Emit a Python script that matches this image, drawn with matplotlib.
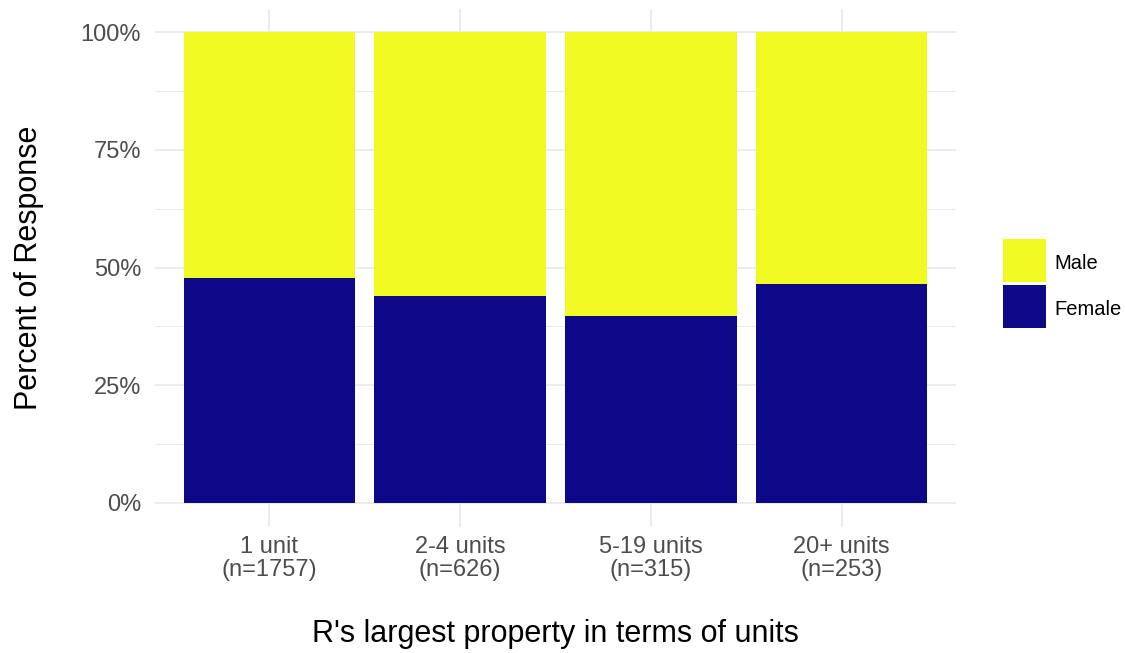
import matplotlib.pyplot as plt
from matplotlib.patches import Rectangle
import numpy as np

plt.rcParams['font.family'] = ['Liberation Sans', 'DejaVu Sans']

# data
categories = ["1 unit\n(n=1757)", "2-4 units\n(n=626)", "5-19 units\n(n=315)", "20+ units\n(n=253)"]
female = [0.478, 0.439, 0.397, 0.465]
male = [1 - f for f in female]
series_names = ["Male", "Female"]
colors = {"Male": "#F0F921", "Female": "#0D0887"}

W, H = 1125, 653
fig = plt.figure(figsize=(W / 100, H / 100), dpi=100)
ax = fig.add_axes([155 / W, 1 - 526.5 / H, (956 - 155) / W, (526.5 - 8.5) / H])

x = np.arange(len(categories))
ax.bar(x, female, width=0.9, color=colors["Female"], zorder=2)
ax.bar(x, male, width=0.9, bottom=female, color=colors["Male"], zorder=2)

ax.set_xlim(-0.6, len(categories) - 0.4)
ax.set_ylim(-0.05, 1.05)

ax.set_yticks([0, 0.25, 0.5, 0.75, 1.0])
ax.set_yticklabels(["0%", "25%", "50%", "75%", "100%"])
ax.set_yticks([0.125, 0.375, 0.625, 0.875], minor=True)
ax.set_xticks(x)
ax.set_xticklabels(categories, linespacing=1.05)

ax.grid(True, which='major', color='#EBEBEB', linewidth=1.3, zorder=0)
ax.grid(True, which='minor', axis='y', color='#EBEBEB', linewidth=0.7, zorder=0)
ax.set_axisbelow(True)
for s in ax.spines.values():
    s.set_visible(False)
ax.tick_params(axis='both', which='both', length=0, labelsize=17, labelcolor='#4D4D4D')
ax.tick_params(axis='y', pad=10)
ax.tick_params(axis='x', pad=7)

ax.set_ylabel("Percent of Response", fontsize=22, labelpad=26)
ax.set_xlabel("R's largest property in terms of units", fontsize=22, labelpad=27)

# legend keys
key_y = [239, 285]
for name, ky in zip(series_names, key_y):
    fig.add_artist(Rectangle((1003 / W, 1 - (ky + 43) / H), 43 / W, 43 / H,
                             transform=fig.transFigure, facecolor=colors[name], edgecolor='none'))
    fig.text(1054 / W, 1 - (ky + 24.5) / H, name, fontsize=14.5, va='center', ha='left')

fig.savefig("out.png", dpi=100)
